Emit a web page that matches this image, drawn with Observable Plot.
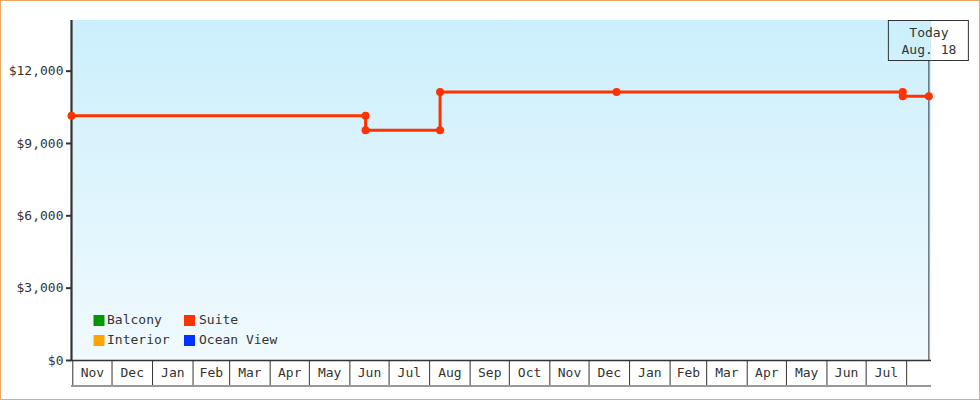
<!DOCTYPE html>
<html>
<head>
<meta charset="utf-8">
<script src="https://cdn.jsdelivr.net/npm/d3@7"></script>
<script src="https://cdn.jsdelivr.net/npm/@observablehq/plot@0.6"></script>
<style>
  html, body { margin: 0; padding: 0; background: #fff; }
  #wrap { width: 978px; height: 398px; border: 1px solid #eaa862; overflow: hidden; }
  #wrap svg { display: block; }
</style>
</head>
<body>
<div id="wrap"></div>
<script>
// ---- data ----
const suiteDates = ["2016-10-31", "2017-06-13", "2017-06-13", "2017-08-09", "2017-08-09", "2017-12-22", "2018-07-29", "2018-07-29", "2018-08-18"];
const suitePrices = [10150, 10150, 9550, 9550, 11130, 11130, 11130, 10960, 10960];
const legendNames = ["Balcony", "Interior", "Suite", "Ocean View"];
const legendColors = ["#009900", "#ffa500", "#ff3300", "#0033ff"];
const yTicks = [0, 3000, 6000, 9000, 12000];
const xDomain = ["2016-10-31", "2018-08-20"];
const yDomain = [0, 14100];
const firstMonth = "2016-11-01";
const lastMonth = "2018-08-01";
const todayDate = "2018-08-18";
const todayLines = ["Today", "Aug. 18"];

// ---- derived ----
const suiteColor = legendColors[2];
const ink = "#333333";
const rows = suiteDates.map((d, i) => ({date: new Date(d), price: suitePrices[i]}));
const monthStarts = d3.utcMonth.range(new Date(firstMonth), d3.utcDay.offset(new Date(lastMonth), 1));
const monthMids = monthStarts.slice(0, -1).map((m, i) => new Date((+m + +monthStarts[i + 1]) / 2));
const today = new Date(todayDate);

function background(index, scales, values, dims) {
  const g = d3.create("svg:g");
  const lg = g.append("defs").append("linearGradient")
    .attr("id", "bgGrad").attr("x1", 0).attr("y1", 0).attr("x2", 0).attr("y2", 1);
  lg.append("stop").attr("offset", "0%").attr("stop-color", "#cbeffc");
  lg.append("stop").attr("offset", "100%").attr("stop-color", "#f1fafe");
  g.append("rect")
    .attr("x", dims.marginLeft).attr("y", dims.marginTop)
    .attr("width", dims.width - dims.marginLeft - dims.marginRight)
    .attr("height", dims.height - dims.marginTop - dims.marginBottom)
    .attr("fill", "url(#bgGrad)");
  return g.node();
}

function todayBox(index, scales, values, dims) {
  const cx = scales.x(today);
  const g = d3.create("svg:g");
  g.append("rect")
    .attr("x", cx - 40).attr("y", dims.marginTop + 0.5)
    .attr("width", 80).attr("height", 40)
    .attr("fill", "none").attr("stroke", ink).attr("stroke-width", 1);
  return g.node();
}

const legendMarks = [];
legendNames.forEach((name, i) => {
  const col = Math.floor(i / 2), row = i % 2;
  legendMarks.push(Plot.dot([name], {
    frameAnchor: "bottom-left", symbol: "square", r: 6.2,
    fill: legendColors[i], stroke: "none",
    dx: 27.5 + col * 90.5, dy: -40 + row * 20
  }));
  legendMarks.push(Plot.text([name], {
    text: d => d, frameAnchor: "bottom-left", textAnchor: "start", lineAnchor: "middle",
    fill: ink, dx: 35.5 + col * 92, dy: -40.5 + row * 20
  }));
});

const chart = Plot.plot({
  width: 978,
  height: 398,
  marginTop: 19,
  marginLeft: 70,
  marginRight: 48,
  marginBottom: 39,
  style: {fontFamily: "'DejaVu Sans Mono', monospace", fontSize: "13px", color: ink, background: "transparent"},
  x: {type: "utc", domain: xDomain.map(d => new Date(d))},
  y: {domain: yDomain},
  marks: [
    background,
    Plot.axisY({ticks: yTicks, tickSize: 5, tickPadding: 3, strokeWidth: 2, label: null,
      tickFormat: d => "$" + d3.format(",")(d)}),
    Plot.axisX({ticks: monthStarts, tickSize: 25, tickFormat: () => "", label: null}),
    Plot.axisX({ticks: monthMids, tickSize: 0, tickPadding: 7, tickFormat: d3.utcFormat("%b"), label: null}),
    Plot.ruleY([0], {stroke: ink, strokeWidth: 1}),
    Plot.ruleY([0], {stroke: ink, strokeWidth: 1.5, dy: 0}),
    Plot.ruleY([0], {stroke: ink, strokeWidth: 1.2, dy: 25.5}),
    Plot.ruleX([xDomain[0]], {x: d => new Date(d), stroke: ink, strokeWidth: 2.2}),
    Plot.ruleX([today], {x: d => d, stroke: ink, strokeWidth: 1, insetTop: 41}),
    todayBox,
    Plot.text([todayLines[0]], {x: () => today, text: d => d, frameAnchor: "top", lineAnchor: "middle", dy: 12, fill: ink}),
    Plot.text([todayLines[1]], {x: () => today, text: d => d, frameAnchor: "top", lineAnchor: "middle", dy: 29.5, fill: ink}),
    Plot.line(rows, {x: "date", y: "price", stroke: suiteColor, strokeWidth: 3, strokeLinejoin: "round"}),
    Plot.dot(rows, {x: "date", y: "price", r: 4, fill: suiteColor, stroke: "none"}),
    ...legendMarks
  ]
});
document.getElementById("wrap").appendChild(chart);
</script>
</body>
</html>
